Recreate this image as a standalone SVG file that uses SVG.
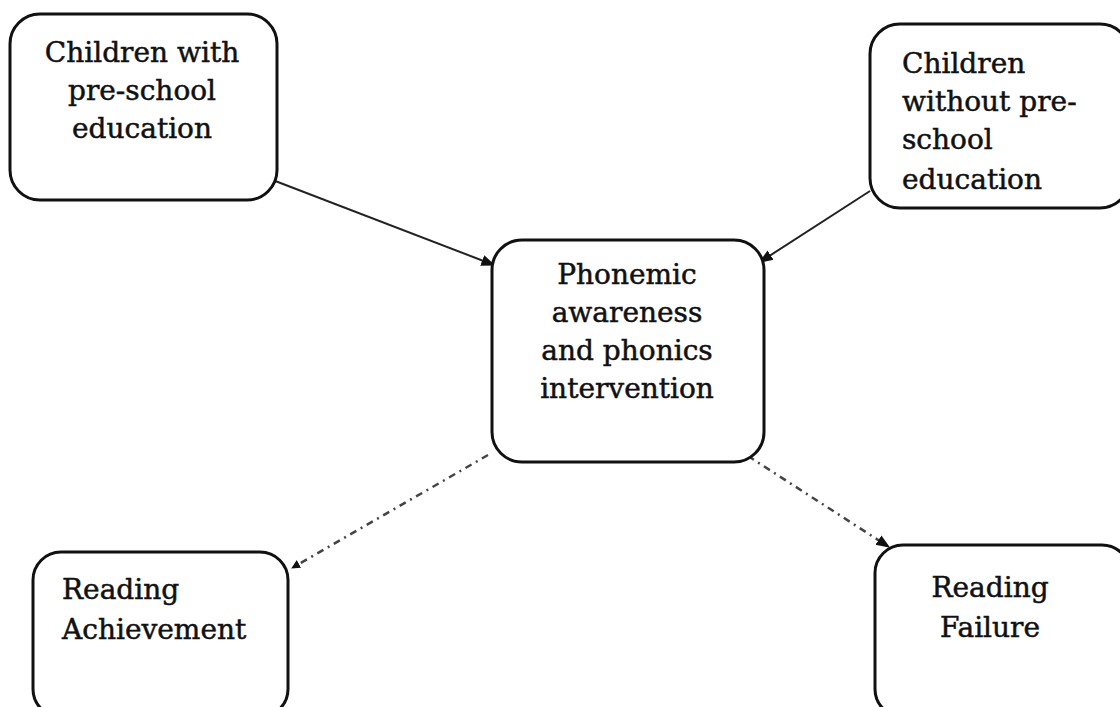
<svg xmlns="http://www.w3.org/2000/svg" width="1120" height="707" viewBox="0 0 1120 707">
<defs>
<marker id="ah" viewBox="0 0 10 10" refX="9" refY="5" markerWidth="9" markerHeight="9" markerUnits="userSpaceOnUse" orient="auto"><path d="M0,0 L10,5 L0,10 z" fill="#111"/></marker>
<marker id="ahs" viewBox="0 0 10 10" refX="9" refY="5" markerWidth="14" markerHeight="14" markerUnits="userSpaceOnUse" orient="auto"><path d="M0,1 L10,5 L0,9 z" fill="#111"/></marker>
</defs>
<style>
.box{fill:#fff;stroke:#111;stroke-width:3}
.t{font-family:"DejaVu Serif","Liberation Serif",serif;font-size:28px;fill:#111;stroke:#111;stroke-width:0.5}
.c{text-anchor:middle}
.solid{stroke:#222;stroke-width:2;fill:none}
.dd{stroke:#444;stroke-width:2.5;fill:none;stroke-dasharray:7 5 2 5}
</style>
<rect width="1120" height="707" fill="#fff"/>
<g id="connectors">
<line class="solid" x1="257" y1="174" x2="494" y2="265" marker-end="url(#ahs)"/>
<line class="solid" x1="870" y1="191" x2="760" y2="262" marker-end="url(#ahs)"/>
<line class="dd" x1="488" y1="455" x2="292" y2="568" marker-end="url(#ah)"/>
<line class="dd" x1="748" y1="456" x2="889" y2="547" marker-end="url(#ahs)"/>
</g>
<g id="n1">
<rect class="box" x="10" y="14" width="267" height="186" rx="30"/>
<text class="t c" x="142" y="62">Children with</text>
<text class="t c" x="142" y="100">pre-school</text>
<text class="t c" x="142" y="138">education</text>
</g>
<g id="n2">
<rect class="box" x="870" y="24" width="260" height="184" rx="30"/>
<text class="t" x="902" y="73">Children</text>
<text class="t" x="902" y="111">without pre-</text>
<text class="t" x="902" y="149">school</text>
<text class="t" x="902" y="189">education</text>
</g>
<g id="n3">
<rect class="box" x="492" y="240" width="272" height="222" rx="30"/>
<text class="t c" x="627" y="284">Phonemic</text>
<text class="t c" x="627" y="322">awareness</text>
<text class="t c" x="627" y="360">and phonics</text>
<text class="t c" x="627" y="398">intervention</text>
</g>
<g id="n4">
<rect class="box" x="33" y="552" width="255" height="165" rx="28"/>
<text class="t" x="62" y="599">Reading</text>
<text class="t" x="62" y="639">Achievement</text>
</g>
<g id="n5">
<rect class="box" x="875" y="545" width="255" height="172" rx="28"/>
<text class="t c" x="990" y="597">Reading</text>
<text class="t c" x="990" y="637">Failure</text>
</g>
</svg>
